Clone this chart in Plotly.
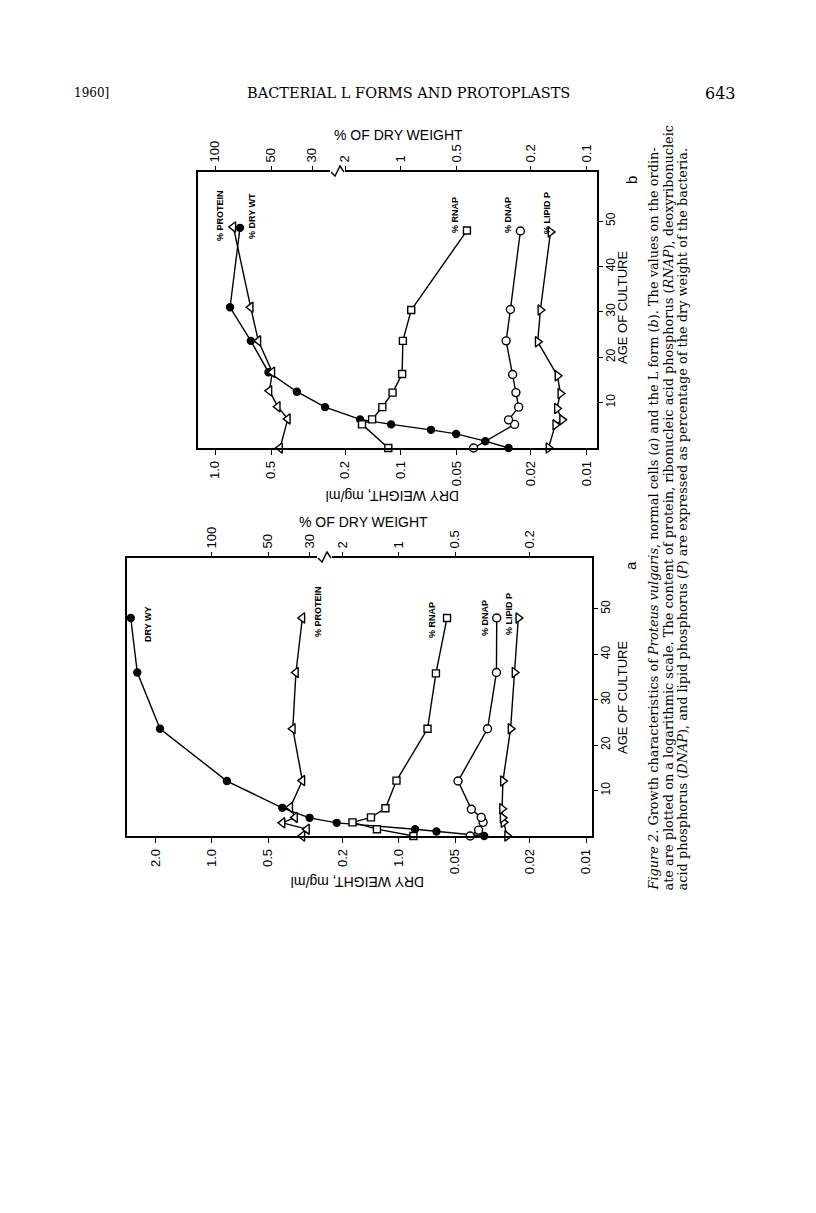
import plotly.graph_objects as go

# ---- panel a : normal cells ----
age_a_dry = [0, 1.0, 1.5, 2.9, 4.0, 6.2, 12.1, 23.6, 36.0, 48.0]
dry_a = [0.035, 0.063, 0.082, 0.215, 0.30, 0.42, 0.83, 1.89, 2.50, 2.71]

age_a_prot = [0, 1.5, 2.9, 4.1, 6.3, 12.2, 23.6, 36.0, 48.0]
prot_a = [32.8, 31.0, 41.9, 35.9, 38.1, 32.8, 36.9, 35.5, 32.8]

age_a_rnap = [0, 1.5, 3.0, 4.1, 6.1, 12.2, 23.6, 35.8, 48.0]
rnap_a = [0.836, 1.31, 1.77, 1.41, 1.18, 1.03, 0.703, 0.634, 0.553]

age_a_dnap = [0, 1.3, 3.0, 4.1, 5.9, 12.1, 23.6, 36.0, 48.0]
dnap_a = [0.416, 0.375, 0.355, 0.363, 0.41, 0.483, 0.336, 0.301, 0.30]

age_a_lip = [0, 3.0, 4.0, 6.0, 12.1, 23.6, 36.0, 48.0]
lip_a = [0.264, 0.276, 0.279, 0.281, 0.278, 0.253, 0.241, 0.23]

# ---- panel b : L form ----
age_b_dry = [0, 1.5, 3.1, 4.0, 5.2, 6.3, 9.0, 12.4, 16.7, 23.6, 31.0, 48.5]
dry_b = [0.0264, 0.0352, 0.0505, 0.069, 0.113, 0.166, 0.256, 0.363, 0.516, 0.642, 0.83, 0.734]

age_b_prot = [0, 6.4, 9.1, 12.6, 16.7, 23.6, 31.0, 48.7]
prot_b = [44.7, 40.6, 46.0, 51.0, 49.2, 58.5, 64.3, 79.7]

age_b_rnap = [0, 5.2, 6.3, 9.0, 12.2, 16.3, 23.6, 30.4, 47.9]
rnap_b = [1.17, 1.62, 1.43, 1.26, 1.11, 0.986, 0.977, 0.881, 0.442]

age_b_dnap = [0, 5.2, 6.2, 9.0, 12.2, 16.2, 23.6, 30.5, 47.8]
dnap_b = [0.407, 0.245, 0.264, 0.233, 0.241, 0.251, 0.272, 0.258, 0.228]

age_b_lip = [0, 5.1, 6.2, 8.7, 12.0, 15.9, 23.4, 30.4, 47.6]
lip_b = [0.161, 0.148, 0.136, 0.145, 0.139, 0.144, 0.184, 0.178, 0.157]

# ---- tick labels ----
age_ticks = [10, 20, 30, 40, 50]
dw_ticks_a = [2, 1, 0.5, 0.2, 0.1, 0.05, 0.02, 0.01]
dw_text_a = ["2.0", "1.0", "0.5", "0.2", "1.0", "0.05", "0.02", "0.01"]
dw_ticks_b = [1, 0.5, 0.2, 0.1, 0.05, 0.02, 0.01]
dw_text_b = ["1.0", "0.5", "0.2", "0.1", "0.05", "0.02", "0.01"]
prot_ticks = [100, 50, 30]
prot_text = ["100", "50", "30"]
nuc_ticks_a = [2, 1, 0.5, 0.2]
nuc_text_a = ["2", "1", "0.5", "0.2"]
nuc_ticks_b = [2, 1, 0.5, 0.2, 0.1]
nuc_text_b = ["2", "1", "0.5", "0.2", "0.1"]

# page is 816x1213, the browser body keeps an 8px margin round the plot
OFF = 8
W, H = 816 - 2 * OFF, 1213 - 2 * OFF
SANS = "Liberation Sans, Arial, sans-serif"
SERIF = "DejaVu Serif, serif"


def px(x):
    return (x - OFF) / W


def py(y):
    return 1 - (y - OFF) / H


fig = go.Figure()


def series(x, y, xa, ya, symbol, fill="white", size=8):
    fig.add_trace(go.Scatter(
        x=x, y=y, xaxis=xa, yaxis=ya, mode="lines+markers",
        line=dict(color="black", width=1.4),
        marker=dict(symbol=symbol, size=size, color=fill,
                    line=dict(color="black", width=1.4)),
        cliponaxis=False, showlegend=False))


# panel a
series(dry_a, age_a_dry, "x", "y", "circle", "black", 7)
series(prot_a, age_a_prot, "x2", "y", "triangle-left", size=9)
series(rnap_a, age_a_rnap, "x3", "y", "square", size=7)
series(dnap_a, age_a_dnap, "x3", "y", "circle", size=8)
series(lip_a, age_a_lip, "x3", "y", "triangle-right", size=9)
# panel b
series(dry_b, age_b_dry, "x4", "y2", "circle", "black", 7)
series(prot_b, age_b_prot, "x5", "y2", "triangle-left", size=9)
series(rnap_b, age_b_rnap, "x6", "y2", "square", size=7)
series(dnap_b, age_b_dnap, "x6", "y2", "circle", size=8)
series(lip_b, age_b_lip, "x6", "y2", "triangle-right", size=9)

tfont = dict(family=SANS, size=13, color="black")
base = dict(type="log", showgrid=False, zeroline=False, ticks="outside",
            ticklen=5, tickwidth=1.4, tickcolor="black", tickangle=-90,
            tickfont=tfont, ticklabelstandoff=1)


def panel(xa, xb, xc, ya, x0, x1, y0, y1, rng, dwt, dwtx, nt, ntx, agemax):
    lay = {}
    lay[xa[0]] = dict(base, domain=[px(x0), px(x1)], range=rng, anchor=ya[1],
                      side="bottom", showline=True, mirror=True,
                      linewidth=1.6, linecolor="black",
                      tickvals=dwt, ticktext=dwtx)
    lay[xb[0]] = dict(base, range=[rng[0] + 2, rng[1] + 2], overlaying=xa[1],
                      anchor=ya[1], side="top", showline=False,
                      tickvals=prot_ticks, ticktext=prot_text)
    lay[xc[0]] = dict(base, range=[rng[0] + 1, rng[1] + 1], overlaying=xa[1],
                      anchor=ya[1], side="top", showline=False,
                      tickvals=nt, ticktext=ntx)
    lay[ya[0]] = dict(domain=[py(y1), py(y0)], range=[0, agemax], anchor=xa[1],
                      side="right", showgrid=False, zeroline=False,
                      showline=True, mirror=True, linewidth=1.6,
                      linecolor="black", ticks="outside", ticklen=4,
                      tickwidth=1.4, tickcolor="black", tickangle=-90,
                      tickvals=age_ticks,
                      tickfont=dict(family=SANS, size=12, color="black"),
                      ticklabelstandoff=-2)
    return lay


lay_a = panel(("xaxis", "x"), ("xaxis2", "x2"), ("xaxis3", "x3"), ("yaxis", "y"),
              127, 592, 558, 836, [0.453, -2.032], dw_ticks_a, dw_text_a,
              nuc_ticks_a, nuc_text_a, 61.2)
lay_b = panel(("xaxis4", "x4"), ("xaxis5", "x5"), ("xaxis6", "x6"), ("yaxis2", "y2"),
              198, 597, 172, 448, [0.0915, -2.054], dw_ticks_b, dw_text_b,
              nuc_ticks_b, nuc_text_b, 60.8)

fig.update_layout(width=W, height=H, margin=dict(l=0, r=0, t=0, b=0),
                  paper_bgcolor="white", plot_bgcolor="white",
                  **lay_a, **lay_b)

ann = []


def note(x, y, text, size=13, angle=0, family=SANS, xanchor="center",
         yanchor="middle", bold=False):
    if bold:
        text = "<b>" + text + "</b>"
    ann.append(dict(x=px(x), y=py(y), xref="paper", yref="paper", text=text,
                    showarrow=False, textangle=angle, xanchor=xanchor,
                    yanchor=yanchor, font=dict(family=family, size=size,
                                               color="black")))


# page header
note(91, 93, "1960]", 12, family=SERIF)
note(408, 93, "BACTERIAL L FORMS AND PROTOPLASTS", 14.5, family=SERIF)
note(720, 93, "643", 16, family=SERIF)

# axis titles
note(363, 522, "% OF DRY WEIGHT", 14)
note(398, 135, "% OF DRY WEIGHT", 14)
note(358, 882, "DRY WEIGHT, mg/ml", 14, angle=180)
note(393, 496, "DRY WEIGHT, mg/ml", 14, angle=180)
note(622, 698, "AGE OF CULTURE", 13, angle=-90)
note(622, 308, "AGE OF CULTURE", 13, angle=-90)
note(630, 566, "a", 15, angle=-90)
note(631, 180, "b", 15, angle=-90)

# series labels
for x, y, t in [(148, 624, "DRY WY"), (318, 612, "% PROTEIN"),
                (432, 620, "% RNAP"), (485, 618, "% DNAP"),
                (509, 614, "% LIPID P"),
                (220, 216, "% PROTEIN"), (252, 216, "% DRY WT"),
                (455, 215, "% RNAP"), (508, 215, "% DNAP"),
                (547, 213, "% LIPID P")]:
    note(x, y, t, 9, angle=-90, bold=True)

# caption
cap = [
    "<i>Figure 2</i>. Growth characteristics of <i>Proteus vulgaris</i>, normal cells (<i>a</i>) "
    "and the L form (<i>b</i>). The values on the ordin-",
    "ate are plotted on a logarithmic scale. The content of protein, ribonucleic acid "
    "phosphorus (<i>RNAP</i>), deoxyribonucleic",
    "acid phosphorus (<i>DNAP</i>), and lipid phosphorus (<i>P</i>) are expressed as "
    "percentage of the dry weight of the bacteria.",
]
for i, line in enumerate(cap):
    note(653 + 14.5 * i, 893, line, 12.9, angle=-90, family=SERIF,
         yanchor="bottom")

fig.update_layout(annotations=ann)

# axis breaks on the top frame
shapes = []
for x0, top in [(318, 558), (331, 172)]:
    shapes.append(dict(type="rect", xref="paper", yref="paper",
                       x0=px(x0 - 1), x1=px(x0 + 14), y0=py(top + 2),
                       y1=py(top - 2), line=dict(width=0), fillcolor="white"))
    shapes.append(dict(type="path", xref="paper", yref="paper",
                       path="M {} {} L {} {} L {} {} L {} {}".format(
                           px(x0), py(top), px(x0 + 4), py(top + 4),
                           px(x0 + 9), py(top - 6), px(x0 + 13), py(top)),
                       line=dict(color="black", width=1.4)))
fig.update_layout(shapes=shapes)

fig.write_html("out.html")
